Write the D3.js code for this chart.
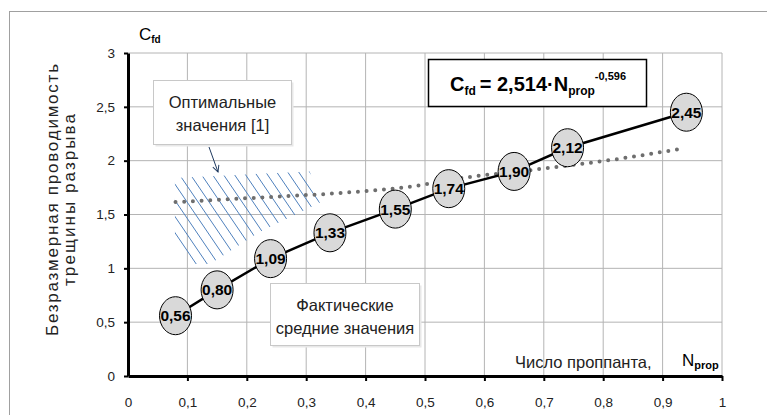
<!DOCTYPE html>
<html>
<head>
<meta charset="utf-8">
<script src="https://cdn.jsdelivr.net/npm/d3@7"></script>
<style>
  body { margin: 0; background: #fff; }
  svg { display: block; }
  .tick text { font-family: "Liberation Sans", Arial, sans-serif; font-size: 13.5px; fill: #222; }
  .box-text { font-family: "Liberation Sans Narrow", "Liberation Sans", Arial, sans-serif; font-size: 16.5px; fill: #222; }
</style>
</head>
<body>
<svg id="chart"></svg>
<script>
// actual average values
const nProp = [0.08, 0.15, 0.24, 0.34, 0.45, 0.54, 0.65, 0.74, 0.94];
const cfdActual = [0.56, 0.80, 1.09, 1.33, 1.55, 1.74, 1.90, 2.12, 2.45];
const cfdLabels = ["0,56", "0,80", "1,09", "1,33", "1,55", "1,74", "1,90", "2,12", "2,45"];

// dotted trend (power law)
const trendX = [0.08, 0.23, 0.37, 0.49, 0.54, 0.69, 0.83, 0.93];
const trendY = [1.615, 1.66, 1.705, 1.77, 1.82, 1.92, 2.02, 2.11];

// hatched "optimal values" zone
const zoneX = [0.079, 0.306, 0.323, 0.29, 0.222, 0.138, 0.109, 0.079];
const zoneY = [1.84, 1.9, 1.61, 1.52, 1.34, 1.04, 1.04, 1.29];

const xTicks = [0, 0.1, 0.2, 0.3, 0.4, 0.5, 0.6, 0.7, 0.8, 0.9, 1];
const yTicks = [0, 0.5, 1, 1.5, 2, 2.5, 3];

const W = 767, H = 415;
const fmt = d => String(d).replace(".", ",");

const svg = d3.select("#chart").attr("width", W).attr("height", H);

// outer frame
svg.append("rect")
    .attr("x", 9.5).attr("y", 11.5)
    .attr("width", W + 20).attr("height", H + 20)
    .attr("fill", "none").attr("stroke", "#a0a0a0");

const xScale = d3.scaleLinear().domain([0, 1]).range([128, 722]);
const yScale = d3.scaleLinear().domain([0, 3]).range([376, 53]);

// grid
svg.append("g").selectAll("line")
    .data(xTicks.slice(1))
    .enter().append("line")
    .attr("x1", d => xScale(d)).attr("x2", d => xScale(d))
    .attr("y1", yScale(0)).attr("y2", yScale(3))
    .attr("stroke", "#b4b4b4").attr("stroke-width", 1);

svg.append("g").selectAll("line")
    .data(yTicks.slice(1))
    .enter().append("line")
    .attr("x1", xScale(0)).attr("x2", xScale(1))
    .attr("y1", d => yScale(d)).attr("y2", d => yScale(d))
    .attr("stroke", "#b4b4b4").attr("stroke-width", 1);

// hatched zone
const zone = zoneX.map((x, i) => [xScale(x), yScale(zoneY[i])]);
svg.append("clipPath").attr("id", "zoneClip")
    .append("polygon").attr("points", zone.map(p => p.join(",")).join(" "));

const hatch = svg.append("g").attr("clip-path", "url(#zoneClip)");
const x0 = d3.min(zone, p => p[0]), x1 = d3.max(zone, p => p[0]);
const y0 = d3.min(zone, p => p[1]), y1 = d3.max(zone, p => p[1]);
for (let x = x0 - 120; x < x1 + 10; x += 11) {
  hatch.append("line")
      .attr("x1", x).attr("y1", y0 - 2)
      .attr("x2", x + (y1 - y0 + 4) * 0.68).attr("y2", y1 + 2)
      .attr("stroke", "#4f81bd").attr("stroke-width", 1);
}

// axes
const xAxis = svg.append("g")
    .attr("transform", "translate(0," + yScale(0) + ")")
    .call(d3.axisBottom(xScale).tickValues(xTicks).tickFormat(fmt).tickSizeInner(5).tickSizeOuter(0).tickPadding(16));
xAxis.select(".domain").attr("stroke", "#000").attr("stroke-width", 3);
xAxis.selectAll(".tick line").attr("stroke", "#000").attr("stroke-width", 2);

const yAxis = svg.append("g")
    .attr("transform", "translate(" + xScale(0) + ",0)")
    .call(d3.axisLeft(yScale).tickValues(yTicks).tickFormat(fmt).tickSizeInner(4).tickSizeOuter(0).tickPadding(9));
yAxis.select(".domain").attr("stroke", "#000").attr("stroke-width", 3);
yAxis.selectAll(".tick line").attr("stroke", "#000").attr("stroke-width", 2);
xAxis.selectAll(".tick").filter(d => d === 0).select("line").remove();

// dotted trend
const trendLine = d3.line()
    .x((d, i) => xScale(trendX[i]))
    .y(d => yScale(d))
    .curve(d3.curveMonotoneX);
svg.append("path")
    .datum(trendY)
    .attr("d", trendLine)
    .attr("fill", "none")
    .attr("stroke", "#6e6e6e")
    .attr("stroke-width", 4)
    .attr("stroke-linecap", "round")
    .attr("stroke-dasharray", "0,8.7");

// actual line
const line = d3.line()
    .x((d, i) => xScale(nProp[i]))
    .y(d => yScale(d));
svg.append("path")
    .datum(cfdActual)
    .attr("d", line)
    .attr("fill", "none")
    .attr("stroke", "#000")
    .attr("stroke-width", 2.5);

const dots = svg.selectAll(".dot")
    .data(cfdActual)
    .enter().append("g")
    .attr("class", "dot")
    .attr("transform", (d, i) => "translate(" + xScale(nProp[i]) + "," + yScale(d) + ")");
dots.append("ellipse")
    .attr("rx", 16).attr("ry", 19)
    .attr("fill", "#d9d9d9").attr("stroke", "#000").attr("stroke-width", 1);
dots.append("text")
    .attr("text-anchor", "middle").attr("dy", "0.36em")
    .attr("font-family", "'Liberation Sans', Arial, sans-serif")
    .attr("font-weight", "bold").attr("font-size", 15.5)
    .attr("fill", "#000")
    .text((d, i) => cfdLabels[i]);

// annotation boxes
function textBox(x, y, w, h, lines) {
  const g = svg.append("g");
  g.append("rect").attr("x", x + 2).attr("y", y + 2).attr("width", w).attr("height", h).attr("fill", "#e8e8e8");
  g.append("rect").attr("x", x).attr("y", y).attr("width", w).attr("height", h)
      .attr("fill", "#fff").attr("stroke", "#c8c8c8");
  lines.forEach((t, i) => {
    g.append("text").attr("class", "box-text")
        .attr("x", x + w / 2).attr("y", y + 27 + i * 23)
        .attr("text-anchor", "middle").text(t);
  });
}
textBox(153.5, 80.5, 138, 64, ["Оптимальные", "значения [1]"]);
textBox(270.5, 283.5, 149, 62, ["Фактические", "средние значения"]);

// arrow
svg.append("defs").append("marker")
    .attr("id", "arr").attr("viewBox", "0 0 10 10").attr("refX", 9).attr("refY", 5)
    .attr("markerWidth", 8).attr("markerHeight", 8).attr("orient", "auto")
    .append("path").attr("d", "M1,1 L9,5 L1,9").attr("fill", "none").attr("stroke", "#1f3a60").attr("stroke-width", 1.2);
svg.append("line")
    .attr("x1", 209).attr("y1", 147).attr("x2", 218).attr("y2", 172)
    .attr("stroke", "#1f3a60").attr("stroke-width", 1)
    .attr("marker-end", "url(#arr)");

// formula box
svg.append("rect").attr("x", 428.5).attr("y", 59.5).attr("width", 218).attr("height", 47)
    .attr("fill", "#fff").attr("stroke", "#000").attr("stroke-width", 1.5);
const f = svg.append("text")
    .attr("x", 538).attr("y", 91).attr("text-anchor", "middle")
    .attr("font-family", "'Liberation Sans Narrow', 'Liberation Sans', Arial, sans-serif")
    .attr("font-weight", "bold").attr("font-size", 20).attr("fill", "#000");
f.append("tspan").text("C");
f.append("tspan").attr("font-size", 12).attr("dy", 4).text("fd");
f.append("tspan").attr("dy", -4).text("\u2009= 2,514·N");
f.append("tspan").attr("font-size", 12).attr("dy", 4).text("prop");
f.append("tspan").attr("font-size", 11).attr("dy", -15).text("-0,596");

// axis titles
const yt = svg.append("text")
    .attr("transform", "translate(58,200) rotate(-90)")
    .attr("text-anchor", "middle")
    .attr("font-family", "'Liberation Sans', Arial, sans-serif")
    .attr("font-size", 17).attr("fill", "#222");
yt.append("tspan").attr("x", 0).attr("dy", 0)
    .attr("textLength", 272).attr("lengthAdjust", "spacing").text("Безразмерная проводимость");
yt.append("tspan").attr("x", 0).attr("dy", 17)
    .attr("textLength", 172).attr("lengthAdjust", "spacing").text("трещины разрыва");

const cfd = svg.append("text").attr("x", 139).attr("y", 40)
    .attr("font-family", "'Liberation Sans Narrow', 'Liberation Sans', Arial, sans-serif")
    .attr("font-size", 17).attr("fill", "#000");
cfd.append("tspan").text("C");
cfd.append("tspan").attr("font-size", 10).attr("font-weight", "bold").attr("dy", 3).text("fd");

svg.append("text").attr("x", 515).attr("y", 368)
    .attr("class", "box-text").text("Число проппанта,");
const np = svg.append("text").attr("x", 682).attr("y", 366)
    .attr("font-family", "'Liberation Sans Narrow', 'Liberation Sans', Arial, sans-serif")
    .attr("font-size", 17).attr("fill", "#000");
np.append("tspan").text("N");
np.append("tspan").attr("font-size", 11).attr("font-weight", "bold").attr("dy", 3).text("prop");
</script>
</body>
</html>
